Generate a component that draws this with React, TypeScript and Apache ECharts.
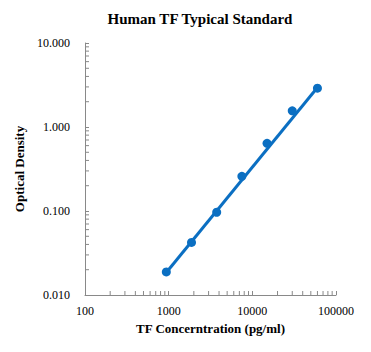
import React, { useEffect, useRef } from "react";
import * as echarts from "echarts";

const concentrations = [937.5, 1875, 3750, 7500, 15000, 30000, 60000];
const densities = [0.0188, 0.0423, 0.0966, 0.259, 0.64, 1.56, 2.9];
const trendX = [937.5, 60000];
const trendY = [0.0185, 2.95];
const minorTicksX = [200, 300, 400, 500, 600, 700, 800, 900, 2000, 3000, 4000, 5000, 6000, 7000, 8000, 9000, 20000, 30000, 40000, 50000, 60000, 70000, 80000, 90000];
const minorTicksY = [0.02, 0.03, 0.04, 0.05, 0.06, 0.07, 0.08, 0.09, 0.2, 0.3, 0.4, 0.5, 0.6, 0.7, 0.8, 0.9, 2, 3, 4, 5, 6, 7, 8, 9];

const X_MIN = 100, X_MAX = 100000, Y_MIN = 0.01, Y_MAX = 10;
const BLUE = "#0B6FC2";
const AXIS = "#898989";
const FONT = "'Liberation Serif', 'Times New Roman', serif";

export default function App() {
  const ref = useRef<HTMLDivElement>(null);
  useEffect(() => {
    if (!ref.current) return;
    const chart = echarts.init(ref.current, undefined, { renderer: "svg" });
    chart.setOption({
      animation: false,
      backgroundColor: "#ffffff",
      title: {
        text: "Human TF Typical Standard",
        left: 195,
        textAlign: "center",
        top: 6,
        textStyle: { fontFamily: FONT, fontSize: 15, fontWeight: "bold", color: "#000" },
      },
      grid: { left: 85, right: 35, top: 43, bottom: 57 },
      xAxis: {
        type: "log",
        logBase: 10,
        min: X_MIN,
        max: X_MAX,
        name: "TF Concerntration (pg/ml)",
        nameLocation: "middle",
        nameGap: 22,
        nameTextStyle: { fontFamily: FONT, fontSize: 13, fontWeight: "bold", color: "#000" },
        axisLine: { lineStyle: { color: AXIS, width: 1 } },
        axisTick: { inside: true, length: 4, lineStyle: { color: AXIS } },
        axisLabel: {
          fontFamily: FONT, fontSize: 12, color: "#000", margin: 10,
          formatter: (v: number) => String(Math.round(v)),
        },
        splitLine: { show: false },
      },
      yAxis: {
        type: "log",
        logBase: 10,
        min: Y_MIN,
        max: Y_MAX,
        name: "Optical Density",
        nameLocation: "middle",
        nameGap: 57,
        nameTextStyle: { fontFamily: FONT, fontSize: 13, fontWeight: "bold", color: "#000" },
        axisLine: { show: true, lineStyle: { color: AXIS, width: 1 } },
        axisTick: { show: true, inside: true, length: 4, lineStyle: { color: AXIS } },
        axisLabel: {
          fontFamily: FONT, fontSize: 12, color: "#000", margin: 15,
          formatter: (v: number) => v.toFixed(3),
        },
        splitLine: { show: false },
      },
      series: [
        {
          type: "custom",
          silent: true,
          clip: false,
          data: minorTicksX.map((v) => [v, Y_MIN]),
          renderItem: (params: any, api: any) => {
            const p = api.coord([api.value(0), Y_MIN]);
            return {
              type: "line",
              shape: { x1: p[0], y1: p[1], x2: p[0], y2: p[1] - 4 },
              style: { stroke: AXIS, lineWidth: 1 },
            };
          },
          z: 1,
        },
        {
          type: "custom",
          silent: true,
          clip: false,
          data: minorTicksY.map((v) => [X_MIN, v]),
          renderItem: (params: any, api: any) => {
            const p = api.coord([X_MIN, api.value(1)]);
            return {
              type: "line",
              shape: { x1: p[0], y1: p[1], x2: p[0] + 4, y2: p[1] },
              style: { stroke: AXIS, lineWidth: 1 },
            };
          },
          z: 1,
        },
        {
          type: "line",
          data: trendX.map((x, i) => [x, trendY[i]]),
          showSymbol: false,
          symbol: "none",
          lineStyle: { color: BLUE, width: 3, opacity: 1 },
          z: 2,
        },
        {
          type: "scatter",
          data: concentrations.map((x, i) => [x, densities[i]]),
          symbol: "circle",
          symbolSize: 9,
          itemStyle: { color: BLUE, opacity: 1 },
          z: 3,
        },
      ],
    });
    return () => chart.dispose();
  }, []);
  return <div ref={ref} style={{ width: 371, height: 352, margin: -8 }} />;
}
